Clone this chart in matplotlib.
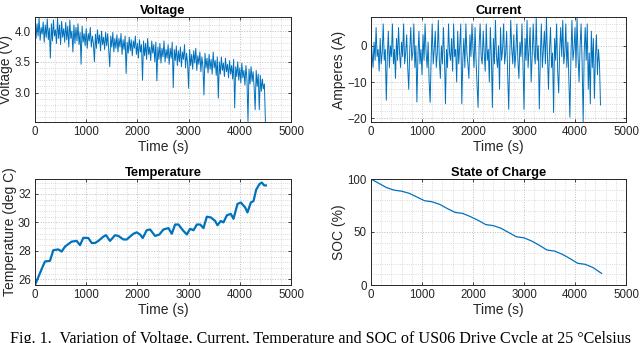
import numpy as np
import matplotlib
matplotlib.use("Agg")
import matplotlib.pyplot as plt
from matplotlib.ticker import AutoMinorLocator, MultipleLocator

# ---------------- data ----------------
time_step = 20  # s, sampling used for the transcribed voltage/current
voltage = [
    4.18, 3.88, 4.12, 3.92, 4.22, 3.85, 4.06, 3.95, 4.15, 3.82,
    4.10, 3.90, 4.20, 3.86, 4.05, 3.56, 4.12, 3.84, 4.18, 3.92,
    4.02, 3.80, 4.21, 3.88, 4.10, 3.78, 4.16, 3.90, 4.04, 3.82,
    4.14, 3.86, 4.08, 3.74, 4.18, 3.88, 4.00, 3.66, 4.10, 3.80,
    4.06, 3.84, 4.12, 3.78, 3.98, 3.46, 4.08, 3.82, 3.96, 3.76,
    4.04, 3.72, 3.96, 3.84, 4.06, 3.74, 3.92, 3.80, 3.50, 3.95,
    3.72, 4.02, 3.80, 3.94, 3.68, 4.00, 3.78, 3.90, 3.70, 3.98,
    3.76, 3.96, 3.68, 3.42, 3.92, 3.74, 3.98, 3.66, 3.88, 3.72,
    3.94, 3.66, 3.88, 3.74, 3.96, 3.62, 3.86, 3.70, 3.92, 3.31,
    3.82, 3.64, 3.90, 3.68, 3.86, 3.60, 3.84, 3.72, 3.92, 3.62,
    3.80, 3.56, 3.86, 3.66, 3.78, 3.20, 3.84, 3.60, 3.80, 3.54,
    3.88, 3.62, 3.74, 3.52, 3.84, 3.64, 3.78, 3.50, 3.82, 3.19,
    3.74, 3.54, 3.80, 3.48, 3.72, 3.58, 3.84, 3.50, 3.70, 3.56,
    3.78, 3.46, 3.72, 3.56, 3.82, 3.08, 3.70, 3.52, 3.76, 3.44,
    3.68, 3.50, 3.74, 3.42, 3.66, 3.54, 3.78, 3.40, 3.64, 3.48,
    3.07, 3.70, 3.44, 3.62, 3.38, 3.68, 3.48, 3.72, 3.36, 3.60,
    3.46, 3.66, 3.34, 3.58, 3.42, 2.96, 3.64, 3.40, 3.56, 3.32,
    3.62, 3.38, 3.54, 3.30, 3.66, 3.40, 3.52, 3.28, 3.58, 2.91,
    3.50, 3.30, 3.58, 3.36, 3.48, 3.26, 3.56, 3.34, 3.46, 3.24,
    3.52, 3.30, 3.44, 3.22, 3.54, 2.75, 3.42, 3.26, 3.50, 3.20,
    3.40, 3.16, 3.48, 3.24, 3.36, 3.12, 3.44, 3.20, 2.53, 3.38,
    3.14, 3.42, 3.18, 3.34, 3.08, 2.72, 3.36, 3.10, 3.30, 2.72,
    3.28, 3.02, 3.22, 3.06, 3.14, 2.53,
]
current = [
    3, -2, -6, 1, -4, 5, -3, -1, -7, 2,
    -5, -2, 6, -4, -1, -15, -3, 4, -6, 0,
    -3, 6, -5, -1, -9, 2, -4, 5, -2, -6,
    1, -3, 6, -5, -2, 3, -6, -12, -1, 5,
    -4, -2, 6, -6, 0, -15.5, -3, 4, -5, -1,
    -8, 3, -4, 6, -2, -6, 1, -10, -15.6, -3,
    6, -5, -1, 4, -6, -2, 7, -4, -9, 0,
    -5, 5, -3, -16, -1, -6, 6, -2, -4, 2,
    -7, 6, -3, -1, -10, 4, -5, 0, 6, -16,
    -4, 2, -6, 6, -2, -5, -9, 3, -3, 6,
    -1, -6, 5, -4, -11, -17, 0, 6, -3, -5,
    4, -2, -7, 6, -4, -1, -10, 5, -3, -17,
    2, -5, 7, -3, -6, 0, -12, 5, -4, -1,
    6, -5, -2, 4, -8, -17.5, -3, 7, -1, -5,
    3, -6, -2, 6, -4, -9, 1, -3, 6, -5,
    -17.5, 2, -4, 7, -6, -1, 5, -10, -3, 6,
    -2, -5, 7.5, -4, 0, -17.4, -3, 6, -6, -1,
    4, -5, 7.8, -3, -12, -1, 5, -6, -2, -18.4,
    2, -4, 6, -7, -13, -1, 5, -3, 7, -5,
    -2, 6, -6, 1, -9, -19.7, -3, 7, -4, -1,
    5, -6, 7.8, -3, -10, 0, 6, -5, -20.9, -2,
    5, -4, 6, -12, -2, -16, 4, -6, 2, -14.5,
    -3, 3, -8, -1, -5, -16.3,
]
temp_time = [0, 163, 195, 293, 358, 456, 521, 586, 716, 814, 879, 944, 1042,
             1107, 1172, 1237, 1335, 1387, 1465, 1563, 1628, 1726, 1791, 1921,
             1986, 2052, 2104, 2182, 2248, 2345, 2430, 2508, 2606, 2671, 2737,
             2802, 2887, 2965, 3030, 3096, 3161, 3226, 3291, 3356, 3434, 3519,
             3564, 3629, 3681, 3747, 3825, 3877, 3955, 4020, 4105, 4150, 4216,
             4268, 4320, 4385, 4430, 4476, 4510]
temperature = [25.6, 27.0, 27.25, 27.3, 28.05, 28.1, 27.95, 28.3, 28.65, 28.7,
               28.4, 28.92, 28.9, 28.55, 28.55, 28.7, 29.0, 29.1, 28.7, 29.1,
               29.05, 28.8, 28.8, 29.2, 29.3, 29.15, 28.9, 29.45, 29.5, 29.05,
               29.15, 29.5, 29.6, 29.2, 29.85, 29.85, 29.45, 29.15, 29.55, 29.45,
               29.85, 29.85, 29.6, 30.4, 30.35, 30.1, 29.8, 30.1, 30.0, 30.5,
               30.6, 30.25, 31.3, 31.4, 31.05, 30.7, 31.4, 31.5, 32.3, 32.7,
               32.8, 32.6, 32.6]
soc_time = [0, 150, 300, 450, 600, 750, 900, 1050, 1200, 1350, 1500, 1650,
            1800, 1950, 2100, 2250, 2400, 2550, 2700, 2850, 3000, 3150, 3300,
            3450, 3600, 3750, 3900, 4050, 4200, 4350, 4520]
soc = [100, 96, 92, 89.5, 88.5, 86.5, 83, 79.5, 78.5, 76, 72, 68.5, 67.5,
       64.5, 61, 57, 56, 53.5, 49.5, 45.5, 44.5, 41.5, 37.5, 33, 32, 29, 25,
       20.5, 19.5, 16.5, 11]

titles = ["Voltage", "Current", "Temperature", "State of Charge"]
ylabels = ["Voltage (V)", "Amperes (A)", "Temperature (deg C)", "SOC (%)"]
xlabel = "Time (s)"
caption = ("Fig. 1.  Variation of Voltage, Current, Temperature and SOC of "
           "US06 Drive Cycle at 25 \u00b0Celsius")

# ---------------- styling ----------------
plt.rcParams['font.family'] = ['Liberation Sans', 'DejaVu Sans']
LINE = '#0072BD'
EDGE = '#262626'

fig = plt.figure(figsize=(6.4, 3.43), dpi=100)
W, H = 640.0, 343.0

def ax_at(l, t, r, b):
    return fig.add_axes([l / W, 1 - b / H, (r - l) / W, (b - t) / H])

axes = [ax_at(35, 17, 291, 122), ax_at(371, 17, 626, 122),
        ax_at(35, 179, 291, 285), ax_at(371, 179, 626, 285)]

t_vi = np.arange(len(voltage)) * time_step

axes[0].plot(t_vi, voltage, color=LINE, lw=0.7)
axes[0].set_ylim(2.52, 4.23)
axes[0].yaxis.set_major_locator(MultipleLocator(0.5))

axes[1].plot(np.arange(len(current)) * time_step, current, color=LINE, lw=0.7)
axes[1].set_ylim(-21, 7.9)
axes[1].yaxis.set_major_locator(MultipleLocator(10))

axes[2].plot(temp_time, temperature, color=LINE, lw=1.6)
axes[2].set_ylim(25.6, 33.05)
axes[2].yaxis.set_major_locator(MultipleLocator(2))

axes[3].plot(soc_time, soc, color=LINE, lw=0.9)
axes[3].set_ylim(0, 100)
axes[3].yaxis.set_major_locator(MultipleLocator(50))

for ax, ti, yl in zip(axes, titles, ylabels):
    ax.set_xlim(0, 5000)
    ax.xaxis.set_major_locator(MultipleLocator(1000))
    ax.xaxis.set_minor_locator(AutoMinorLocator(5))
    ax.yaxis.set_minor_locator(AutoMinorLocator(5))
    ax.grid(True, which='major', color='#bdbdbd', ls=':', lw=0.7)
    ax.grid(True, which='minor', color='#cfcfcf', ls=':', lw=0.6)
    ax.set_axisbelow(True)
    for s in ax.spines.values():
        s.set_color(EDGE)
        s.set_linewidth(0.7)
    ax.tick_params(which='major', direction='in', length=2.5, width=0.6,
                   top=True, right=True, labelsize=8.3, colors=EDGE, pad=3)
    ax.tick_params(which='minor', length=0)
    ax.set_title(ti, fontsize=9.3, fontweight='bold', pad=2, color='black')
    ax.set_xlabel(xlabel, fontsize=10, labelpad=1, color=EDGE)
    ax.set_ylabel(yl, fontsize=10, labelpad=1, color=EDGE)

fig.text(0.5, 1 - 331 / H, caption, ha='center', va='top',
         family=['Liberation Serif', 'DejaVu Serif'], fontsize=11.6, color='black')

fig.savefig("out.png", dpi=100, facecolor='white')
